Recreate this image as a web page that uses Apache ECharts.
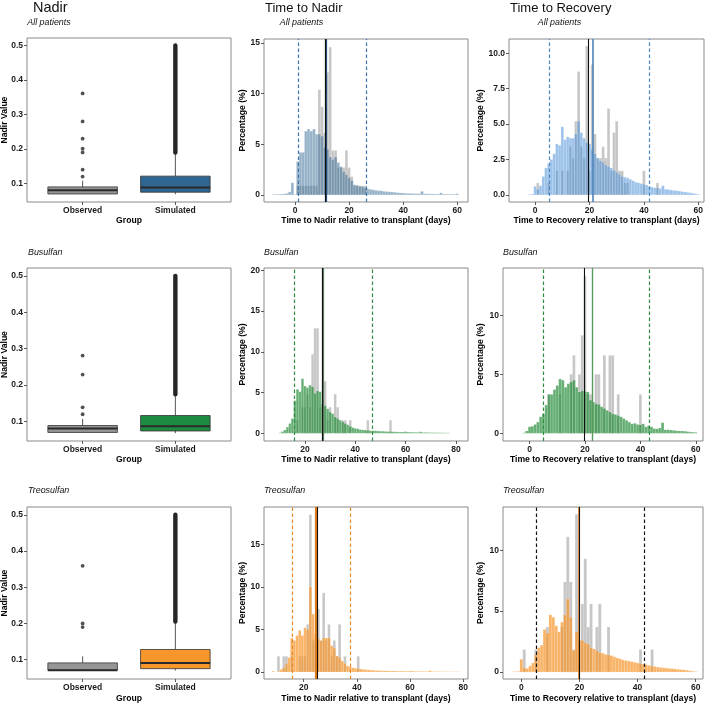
<!DOCTYPE html>
<html><head><meta charset="utf-8">
<script src="https://cdn.jsdelivr.net/npm/echarts@6/dist/echarts.min.js"></script>
<style>html,body{margin:0;padding:0;background:#fff}#c{width:709px;height:704px}</style>
</head><body><div id="c"></div>
<script>
// ---------------- DATA ----------------
const groups = ['Observed', 'Simulated'];
const nadirTicks = [0.1, 0.2, 0.3, 0.4, 0.5];

// box stats: [lower whisker, q1, median, q3, upper whisker]
const allObsBox = [0.0698, 0.0698, 0.0805, 0.0903, 0.108];
const allSimBox = [0.069, 0.0749, 0.0883, 0.1214, 0.19];
const allObsOutliers = [0.361, 0.28, 0.23, 0.201, 0.19, 0.14, 0.12];
const allSimOutlierBand = [0.19, 0.5];
const busObsBox = [0.07, 0.07, 0.0807, 0.089, 0.107];
const busSimBox = [0.068, 0.074, 0.087, 0.1165, 0.175];
const busObsOutliers = [0.281, 0.229, 0.139, 0.12];
const busSimOutlierBand = [0.175, 0.5];
const treoObsBox = [0.071, 0.071, 0.071, 0.091, 0.109];
const treoSimBox = [0.07, 0.075, 0.091, 0.128, 0.205];
const treoObsOutliers = [0.359, 0.2, 0.19];
const treoSimOutlierBand = [0.205, 0.5];

// histograms (% per 1-day bin); first bin centre given by *Start
const nadirAllSimStart = -8;
const nadirAllSim = [0.05,0.05,0.07,0.08,0.1,0.15,0.3,1.2,0.05,3.3,4.2,4.2,6.3,6.5,6.3,6.5,6.0,6.0,5.8,4.7,4.5,3.75,3.5,3.75,3.2,2.8,2.3,2.0,1.7,1.4,1.0,0.95,0.85,0.8,0.7,0.6,0.55,0.5,0.45,0.42,0.4,0.35,0.32,0.3,0.28,0.25,0.22,0.2,0.18,0.16,0.15,0.14,0.13,0.12,0.12,0.35,0.11,0.1,0.1,0.09,0.09,0.08,0.2,0.08,0.07,0.07,0.07,0.06,0.12];
const nadirAllObsStart = 1;
const nadirAllObs = [0.9,0.9,0.9,0.9,0.9,0.9,0.9,0.9,10.4,8.7,6.1,12.1,14.6,4.4,4.4,2.7,2.7,2.7,4.4,2.7,1.8,0.9,0.9,0.9,0.9,0.9];

const recAllSimStart = -2;
const recAllSim = [0.04,0.06,0.6,0.4,0.65,1.3,1.9,2.2,2.5,2.9,3.6,3.5,4.8,3.9,4.1,4.0,4.0,4.3,5.2,4.4,4.0,3.7,3.6,3.2,2.9,2.6,2.4,2.3,2.1,2.0,1.9,1.75,1.6,1.45,1.3,1.25,1.2,1.1,1.0,0.9,0.85,0.8,0.75,0.7,0.6,0.55,0.5,0.5,0.45,0.65,0.4,0.38,0.35,0.32,0.3,0.27,0.24,0.2,0.18,0.15,0.12,0.08,0.05];
const recAllObsStart = 1;
const recAllObs = [0.85,0,0,0,0.85,0,0,1.7,0,1.7,0,1.7,3.4,2.6,5.2,8.7,3.4,2.6,10.5,1.7,9.2,4.3,2.6,2.6,3.4,2.6,6.1,1.7,4.4,5.2,1.7,1.7,0.85,0.85,0,0,0,0,0,1.7,0,0,0,0,0.85];

const busNadirSimStart = 10;
const busNadirSim = [0.05,0.2,0.4,0.75,1.2,1.8,4.0,5.4,5.1,6.7,5.8,5.6,5.9,5.7,4.9,5.2,5.1,3.6,3.4,3.0,2.6,2.4,2.0,1.8,1.6,1.4,1.2,1.05,0.85,0.7,0.6,0.55,0.45,0.42,0.4,0.35,0.32,0.3,0.3,0.28,0.25,0.25,0.22,0.2,0.2,0.18,0.18,0.16,0.15,0.15,0.2,0.14,0.13,0.12,0.12,0.11,0.18,0.1,0.1,0.09,0.08,0.08,0.07,0.07,0.06,0.06,0.05,0.05];
const busNadirObsStart = 17;
const busNadirObs = [1.6,0,3.2,3.2,4.8,3.2,9.7,12.9,12.9,3.2,0,6.4,1.6,3.2,0,4.8,3.2,0,1.6,1.6,0,1.6,0,0,0,0,0,0,1.6,0,0,0,0,0,0,0,0,1.6];

const busRecSimStart = -2;
const busRecSim = [0.05,0.2,0.55,0.6,0.75,0.95,1.4,1.65,2.4,3.3,3.3,3.7,4.05,4.6,4.5,3.9,4.2,4.35,4.5,3.9,3.5,3.6,3.55,3.5,2.8,2.65,2.5,2.45,2.25,2.1,1.95,1.8,1.65,1.6,1.5,1.4,1.25,1.1,0.95,0.8,0.85,0.75,0.72,0.8,0.55,0.65,0.55,0.4,0.38,0.45,0.9,0.3,0.3,0.28,0.25,0.22,0.2,0.2,0.18,0.15,0.12,0.1,0.08];
const busRecObsStart = 7;
const busRecObs = [3.3,0,0,0,3.3,0,0,0,5.0,6.6,0,5.0,8.3,13.3,3.3,3.3,0,5.0,5.0,0,6.6,0,6.6,6.6,0,3.3,0,0,0,0,0,0,0,3.3];

const treoNadirSimStart = 8.5;
const treoNadirSim = [0.1,0,0.05,0.3,0.5,1.0,1.7,4.0,3.7,4.3,4.9,4.3,5.2,5.0,10.0,6.8,4.5,3.9,3.7,4.0,4.0,4.0,3.1,2.8,1.9,1.7,1.3,1.0,0.7,0.6,0.5,0.45,0.4,0.35,0.3,0.28,0.25,0.22,0.2,0.18,0.16,0.15,0.14,0.13,0.12,0.12,0.11,0.1,0.1,0.1,0.09,0.09,0.12,0.08,0.08,0.07,0.07,0.07,0.06,0.15,0.06,0.05,0.05,0.05,0.04,0.04,0.04,0.03,0.03,0.03,0.03];
const treoNadirObsStart = 10.5;
const treoNadirObs = [1.85,0,1.85,1.85,0,1.85,0,0,1.85,1.85,1.85,5.6,18.5,3.7,3.7,7.4,3.7,9.3,3.7,5.6,1.85,3.7,1.85,5.6,0,1.85,0,0,0,0,1.85];

const treoRecSimStart = -3;
const treoRecSim = [0.03,0.04,0.05,1.05,0.35,0.3,0.5,0.75,1.4,2.0,2.2,3.5,3.2,4.7,4.5,3.8,3.3,4.1,4.7,6.0,4.5,1.8,3.3,2.6,2.6,2.4,2.3,2.0,1.9,1.75,1.6,1.55,1.45,1.4,1.35,1.25,1.15,1.1,1.0,0.95,0.9,0.85,0.8,0.75,0.7,0.65,0.6,0.55,0.5,0.45,0.4,0.38,0.35,0.32,0.3,0.28,0.25,0.22,0.2,0.18,0.15,0.1,0.06,0.04];
const treoRecObsStart = 1;
const treoRecObs = [1.85,0,0,0,1.85,0,0,0,3.7,0,0,0,0,3.7,7.4,11.1,7.4,1.85,12.95,0,5.6,9.3,3.7,5.6,0,3.7,5.6,0,0,3.7,0,0,0,0,0,0,0,0,0,0,1.85,0,0,0,1.85];

// reference lines: [observed median, simulated median, simulated 2.5%, simulated 97.5%]
const nadirAllLines = [11.1, 11.3, 1.3, 26.4];
const recAllLines = [19.6, 21.3, 5.1, 41.9];
const busNadirLines = [27.0, 27.2, 15.9, 46.9];
const busRecLines = [19.8, 22.7, 5.0, 43.2];
const treoNadirLines = [25.2, 24.4, 15.5, 37.4];
const treoRecLines = [19.9, 19.7, 5.0, 42.3];

// tick labels
const nadirAllXTicks = [0, 20, 40, 60], nadirAllYTicks = [0, 5, 10, 15];
const recAllXTicks = [0, 20, 40, 60], recAllYTicks = [0, 2.5, 5, 7.5, 10];
const busNadirXTicks = [20, 40, 60, 80], busNadirYTicks = [0, 5, 10, 15, 20];
const busRecXTicks = [0, 20, 40, 60], busRecYTicks = [0, 5, 10];
const treoNadirXTicks = [20, 40, 60, 80], treoNadirYTicks = [0, 5, 10, 15];
const treoRecXTicks = [0, 20, 40, 60], treoRecYTicks = [0, 5, 10];

// ---------------- CHART ----------------
const FONT = '"Liberation Sans", Arial, sans-serif';
const labelStyle = {fontFamily: FONT, fontSize: 8.5, fontWeight: 'bold', color: '#1a1a1a'};
const nameStyle = {fontFamily: FONT, fontSize: 8.6, fontWeight: 'bold', color: '#000'};
const tickStyle = {show: true, length: 3, lineStyle: {color: '#333', width: 0.8}};
const hiddenLine = {show: false, onZero: false};
const OBS_FILL = 'rgba(128,128,128,0.45)';

const gridBoxes = [
  {left: 27, top: 38, width: 204, height: 164},
  {left: 264, top: 39, width: 204, height: 163},
  {left: 509, top: 39, width: 195, height: 163},
  {left: 27, top: 268, width: 204, height: 173},
  {left: 264, top: 268, width: 204, height: 173},
  {left: 503, top: 268, width: 200, height: 173},
  {left: 27, top: 507, width: 204, height: 172},
  {left: 264, top: 507, width: 204, height: 172},
  {left: 503, top: 507, width: 200, height: 172}
];

const xAxes = [], yAxes = [], series = [];

function toPairs(start, vals) {
  const out = [];
  vals.forEach((v, i) => { if (v > 0) out.push([start + i, v]); });
  return out;
}
function barRender(fill) {
  return function (params, api) {
    const x = api.value(0), y = api.value(1);
    const a = api.coord([x - 0.5, 0]), b = api.coord([x + 0.5, y]);
    return {type: 'rect', shape: {x: a[0], y: b[1], width: b[0] - a[0], height: a[1] - b[1]},
      style: {fill: fill, stroke: 'rgba(255,255,255,0.4)', lineWidth: 0.35}};
  };
}
function boxRender(fill) {
  return function (params, api) {
    const x = api.value(0), lo = api.value(1), q1 = api.value(2), med = api.value(3), q3 = api.value(4), hi = api.value(5);
    const hw = 0.375;
    const tl = api.coord([x - hw, q3]), br = api.coord([x + hw, q1]);
    const cHi = api.coord([x, hi]), cQ3 = api.coord([x, q3]), cQ1 = api.coord([x, q1]), cLo = api.coord([x, lo]);
    const mL = api.coord([x - hw, med]), mR = api.coord([x + hw, med]);
    return {type: 'group', children: [
      {type: 'line', shape: {x1: cHi[0], y1: cHi[1], x2: cQ3[0], y2: cQ3[1]}, style: {stroke: '#555', lineWidth: 1}},
      {type: 'line', shape: {x1: cQ1[0], y1: cQ1[1], x2: cLo[0], y2: cLo[1]}, style: {stroke: '#555', lineWidth: 1}},
      {type: 'rect', shape: {x: tl[0], y: tl[1], width: br[0] - tl[0], height: br[1] - tl[1]}, style: {fill: fill, stroke: '#333', lineWidth: 0.8}},
      {type: 'line', shape: {x1: mL[0], y1: mL[1], x2: mR[0], y2: mR[1]}, style: {stroke: '#2a2a2a', lineWidth: 2}}
    ]};
  };
}
function bandRender(params, api) {
  const x = api.value(0);
  const a = api.coord([x, api.value(1)]), b = api.coord([x, api.value(2)]);
  return {type: 'line', shape: {x1: a[0], y1: a[1], x2: b[0], y2: b[1]}, style: {stroke: '#262626', lineWidth: 4.4, lineCap: 'round'}};
}

function addBoxPanel(gi, obsBox, simBox, obsOut, band, simFill, nameGapX) {
  xAxes.push({type: 'value', gridIndex: gi, min: 0.4, max: 2.6,
    axisLine: hiddenLine, splitLine: {show: false},
    axisTick: Object.assign({customValues: [1, 2]}, tickStyle),
    axisLabel: Object.assign({customValues: [1, 2], margin: 4, formatter: v => groups[Math.round(v) - 1]}, labelStyle),
    name: 'Group', nameLocation: 'middle', nameGap: nameGapX, nameTextStyle: nameStyle, nameMoveOverlap: false});
  yAxes.push({type: 'value', gridIndex: gi, min: 0.0465, max: 0.5215,
    axisLine: hiddenLine, splitLine: {show: false},
    axisTick: Object.assign({customValues: nadirTicks}, tickStyle),
    axisLabel: Object.assign({customValues: nadirTicks, margin: 4, formatter: v => v.toFixed(1)}, labelStyle),
    name: 'Nadir Value', nameLocation: 'middle', nameGap: 18, nameTextStyle: nameStyle, nameMoveOverlap: false});
  series.push({type: 'custom', xAxisIndex: gi, yAxisIndex: gi, renderItem: boxRender('#959595'), data: [[1].concat(obsBox)], animation: false, silent: true});
  series.push({type: 'custom', xAxisIndex: gi, yAxisIndex: gi, renderItem: boxRender(simFill), data: [[2].concat(simBox)], animation: false, silent: true});
  series.push({type: 'scatter', xAxisIndex: gi, yAxisIndex: gi, data: obsOut.map(v => [1, v]), symbolSize: 3.8,
    itemStyle: {color: '#262626'}, animation: false, silent: true, z: 4});
  series.push({type: 'custom', xAxisIndex: gi, yAxisIndex: gi, renderItem: bandRender, data: [[2, band[0], band[1]]], animation: false, silent: true, z: 4});
}

function addHistPanel(p) {
  const gi = p.grid;
  xAxes.push({type: 'value', gridIndex: gi, min: p.xMin, max: p.xMax,
    axisLine: hiddenLine, splitLine: {show: false},
    axisTick: Object.assign({customValues: p.xTicks}, tickStyle),
    axisLabel: Object.assign({customValues: p.xTicks, margin: 4}, labelStyle),
    name: p.xName, nameLocation: 'middle', nameGap: p.nameGapX, nameTextStyle: nameStyle, nameMoveOverlap: false});
  yAxes.push({type: 'value', gridIndex: gi, min: p.yMin, max: p.yMax,
    axisLine: hiddenLine, splitLine: {show: false},
    axisTick: Object.assign({customValues: p.yTicks}, tickStyle),
    axisLabel: Object.assign({customValues: p.yTicks, margin: 4, formatter: v => v.toFixed(p.yDec)}, labelStyle),
    name: 'Percentage (%)', nameLocation: 'middle', nameGap: p.nameGapY, nameTextStyle: nameStyle, nameMoveOverlap: false});
  series.push({type: 'custom', xAxisIndex: gi, yAxisIndex: gi, renderItem: barRender(OBS_FILL),
    data: toPairs(p.obsStart, p.obs), animation: false, silent: true, clip: true});
  const L = p.lines;
  const ml = [
    {xAxis: L[2], lineStyle: {color: p.dashColor, width: 1.2, type: [3.5, 2.5]}},
    {xAxis: L[3], lineStyle: {color: p.dashColor, width: 1.2, type: [3.5, 2.5]}}
  ];
  const simLine = {xAxis: L[1], lineStyle: {color: p.simLineColor, width: p.simLineWidth, type: 'solid'}};
  const obsLine = {xAxis: L[0], lineStyle: {color: '#111', width: 1.1, type: 'solid'}};
  ml.push(simLine, obsLine);
  series.push({type: 'custom', xAxisIndex: gi, yAxisIndex: gi, renderItem: barRender(p.fill),
    data: toPairs(p.simStart, p.sim), animation: false, silent: true, clip: true,
    markLine: {silent: true, symbol: ['none', 'none'], label: {show: false}, animation: false, z: 10, data: ml}});
}

const NADIR_X = 'Time to Nadir relative to transplant (days)';
const REC_X = 'Time to Recovery relative to transplant (days)';

addBoxPanel(0, allObsBox, allSimBox, allObsOutliers, allSimOutlierBand, '#2e6591', 14.5);
addHistPanel({grid: 1, xMin: -11.5, xMax: 64, yMin: -0.7, yMax: 15.4, xTicks: nadirAllXTicks, yTicks: nadirAllYTicks, yDec: 0,
  xName: NADIR_X, nameGapX: 14.5, nameGapY: 16.5, sim: nadirAllSim, simStart: nadirAllSimStart, obs: nadirAllObs, obsStart: nadirAllObsStart,
  fill: 'rgba(46,101,145,0.5)', dashColor: '#3c74ad', simLineColor: '#25507a', simLineWidth: 2.2, lines: nadirAllLines});
addHistPanel({grid: 2, xMin: -9.6, xMax: 62.1, yMin: -0.5, yMax: 11.0, xTicks: recAllXTicks, yTicks: recAllYTicks, yDec: 1,
  xName: REC_X, nameGapX: 14.5, nameGapY: 23.5, sim: recAllSim, simStart: recAllSimStart, obs: recAllObs, obsStart: recAllObsStart,
  fill: 'rgba(74,144,217,0.55)', dashColor: '#4a86c0', simLineColor: '#4f85bb', simLineWidth: 1.6, lines: recAllLines});

addBoxPanel(3, busObsBox, busSimBox, busObsOutliers, busSimOutlierBand, '#1e8b42', 14.5);
addHistPanel({grid: 4, xMin: 3.7, xMax: 84.8, yMin: -0.95, yMax: 20.3, xTicks: busNadirXTicks, yTicks: busNadirYTicks, yDec: 0,
  xName: NADIR_X, nameGapX: 14.5, nameGapY: 16.5, sim: busNadirSim, simStart: busNadirSimStart, obs: busNadirObs, obsStart: busNadirObsStart,
  fill: 'rgba(35,139,55,0.7)', dashColor: '#2e8b40', simLineColor: '#5d7f60', simLineWidth: 2.2, lines: busNadirLines});
addHistPanel({grid: 5, xMin: -9.6, xMax: 62.6, yMin: -0.65, yMax: 14.0, xTicks: busRecXTicks, yTicks: busRecYTicks, yDec: 0,
  xName: REC_X, nameGapX: 14.5, nameGapY: 17.5, sim: busRecSim, simStart: busRecSimStart, obs: busRecObs, obsStart: busRecObsStart,
  fill: 'rgba(35,139,55,0.7)', dashColor: '#2e8b40', simLineColor: '#5a9a5e', simLineWidth: 1.4, lines: busRecLines});

addBoxPanel(6, treoObsBox, treoSimBox, treoObsOutliers, treoSimOutlierBand, '#f7962a', 15);
addHistPanel({grid: 7, xMin: 5.05, xMax: 81.8, yMin: -0.82, yMax: 19.4, xTicks: treoNadirXTicks, yTicks: treoNadirYTicks, yDec: 0,
  xName: NADIR_X, nameGapX: 15, nameGapY: 16.5, sim: treoNadirSim, simStart: treoNadirSimStart, obs: treoNadirObs, obsStart: treoNadirObsStart,
  fill: 'rgba(247,150,43,0.72)', dashColor: '#e8892a', simLineColor: '#dd7a1c', simLineWidth: 2.2, lines: treoNadirLines});
addHistPanel({grid: 8, xMin: -6.3, xMax: 62.5, yMin: -0.57, yMax: 13.55, xTicks: treoRecXTicks, yTicks: treoRecYTicks, yDec: 0,
  xName: REC_X, nameGapX: 15, nameGapY: 17.5, sim: treoRecSim, simStart: treoRecSimStart, obs: treoRecObs, obsStart: treoRecObsStart,
  fill: 'rgba(247,150,43,0.72)', dashColor: '#111', simLineColor: '#dd7a1c', simLineWidth: 1.6, lines: treoRecLines});

function txt(x, y, text, size, style, align) {
  return {type: 'text', x: x, y: y, silent: true,
    style: {text: text, font: (style || '') + ' ' + size + 'px ' + FONT, fill: '#111', align: align || 'left', verticalAlign: 'middle'}};
}

const option = {
  animation: false,
  grid: gridBoxes.map(g => Object.assign({show: true, borderColor: '#8a8a8a', borderWidth: 1, backgroundColor: 'transparent', containLabel: false, outerBoundsMode: 'none'}, g)),
  xAxis: xAxes,
  yAxis: yAxes,
  series: series,
  graphic: [
    txt(33, 8, 'Nadir', 14.5, 'normal'),
    txt(265, 8, 'Time to Nadir', 13, 'normal'),
    txt(510, 8, 'Time to Recovery', 13, 'normal'),
    txt(49, 23, 'All patients', 8.9, 'italic', 'center'),
    txt(301.5, 23, 'All patients', 8.9, 'italic', 'center'),
    txt(559.5, 23, 'All patients', 8.9, 'italic', 'center'),
    txt(28, 252.7, 'Busulfan', 8.9, 'italic'),
    txt(264, 252.7, 'Busulfan', 8.9, 'italic'),
    txt(503, 252.7, 'Busulfan', 8.9, 'italic'),
    txt(28, 490.7, 'Treosulfan', 8.9, 'italic'),
    txt(264, 490.7, 'Treosulfan', 8.9, 'italic'),
    txt(503, 490.7, 'Treosulfan', 8.9, 'italic')
  ]
};

const chart = echarts.init(document.getElementById('c'), null, {renderer: 'canvas'});
chart.setOption(option);
</script>
</body></html>
